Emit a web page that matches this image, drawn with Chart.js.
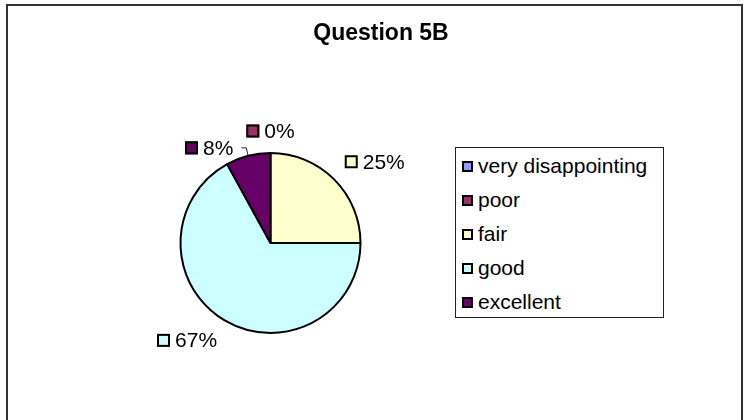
<!DOCTYPE html>
<html>
<head>
<meta charset="utf-8">
<title>Question 5B</title>
<script src="https://cdn.jsdelivr.net/npm/chart.js@4.4.1/dist/chart.umd.min.js"></script>
<style>
    html, body { margin: 0; padding: 0; background: #fff; }

    .chart-wrap {
        position: relative;
        width: 744px;
        height: 420px;
        overflow: hidden;
        font-family: 'Liberation Sans', Arial, sans-serif;
    }

    .chart-frame {
        position: absolute;
        left: 6px;
        top: 4px;
        width: 737px;
        height: 440px;
        border: 2px solid #333;
        box-sizing: border-box;
    }

    .chart-wrap canvas { position: absolute; left: 0; top: 0; }

    #legend-container {
        position: absolute;
        left: 455px;
        top: 147px;
        width: 209px;
        height: 171px;
        border: 1px solid #222;
        box-sizing: border-box;
        background: #fff;
    }

    .chart-legend-list { list-style: none; margin: 0; padding: 1px 0 0 0; }

    .chart-legend-li {
        display: flex;
        align-items: center;
        height: 34px;
        padding-left: 6px;
        font-size: 21px;
        color: #000;
        white-space: nowrap;
    }

    .chart-legend-box {
        width: 11px;
        height: 11px;
        box-sizing: border-box;
        border: 2px solid #000;
        background: var(--color);
        margin-right: 5px;
    }
</style>
</head>
<body>
<div class="chart-wrap">
    <div class="chart-frame"></div>
    <canvas id="question-chart" width="744" height="420"></canvas>
    <div id="legend-container"></div>
</div>

<script>
const categories = ['very disappointing', 'poor', 'fair', 'good', 'excellent'];
const shares = [0, 0, 25, 67, 8];
const sliceColors = ['#9999FF', '#993366', '#FFFFCC', '#CCFFFF', '#660066'];
const chartTitle = 'Question 5B';

const fontFamily = "'Liberation Sans', Arial, sans-serif";

const ctx = document.querySelector('#question-chart');

// legend in html, same idea as the line chart one
const getOrCreateLegendList = (chart, id) => {
    const legendContainer = document.getElementById(id);
    let listContainer = legendContainer.querySelector('ul');

    if (!listContainer) {
        listContainer = document.createElement('ul');
        listContainer.classList.add('chart-legend-list');
        legendContainer.appendChild(listContainer);
    }

    return listContainer;
};

const htmlLegendPlugin = {
    id: 'htmlLegend',
    afterUpdate(chart, args, options) {
        const ul = getOrCreateLegendList(chart, options.containerID);

        while (ul.firstChild) {
            ul.firstChild.remove();
        }

        const items = chart.options.plugins.legend.labels.generateLabels(chart);

        items.forEach(item => {
            const li = document.createElement('li');
            li.classList.add('chart-legend-li');

            const boxSpan = document.createElement('span');
            boxSpan.classList.add('chart-legend-box');
            boxSpan.style.setProperty('--color', item.fillStyle);

            const textContainer = document.createElement('span');
            textContainer.classList.add('chart-legend-text');
            textContainer.appendChild(document.createTextNode(item.text));

            li.appendChild(boxSpan);
            li.appendChild(textContainer);
            ul.appendChild(li);
        });
    }
};

// the title is centred over the whole frame, not over the pie
const titleSpanPlugin = {
    id: 'titleSpan',
    afterLayout(chart, args, opts) {
        const t = chart.titleBlock;
        if (!t) return;
        t.left = opts.left;
        t.right = opts.right;
        t.width = opts.right - opts.left;
    }
};

// excel style labels: small colour box + percent, outside the slice
const pieLabelsPlugin = {
    id: 'pieLabels',
    afterDatasetsDraw(chart, args, opts) {
        const c = chart.ctx;
        const meta = chart.getDatasetMeta(0);
        const dataset = chart.data.datasets[0];

        c.save();
        c.font = opts.font;

        const clamp = v => Math.max(-1, Math.min(1, v * 2));

        const labels = meta.data.map((arc, i) => {
            const p = arc.getProps(['x', 'y', 'startAngle', 'endAngle', 'outerRadius'], true);
            const mid = (p.startAngle + p.endAngle) / 2;
            const dx = Math.cos(mid), dy = Math.sin(mid);
            const r = p.outerRadius + 1;
            const text = dataset.data[i] + '%';
            const w = opts.box + opts.boxGap + c.measureText(text).width;
            const h = opts.height;
            const ax = p.x + dx * (r + opts.offset),
                  ay = p.y + dy * (r + opts.offset);

            return {
                i, text, w, h, dx,
                cx: ax + clamp(dx) * w / 2,
                cy: ay + clamp(dy) * h / 2,
                edgeX: p.x + dx * r,
                edgeY: p.y + dy * r,
                leader: false,
                color: dataset.backgroundColor[i],
            };
        });

        // same spot as a later label -> only the later one shows
        const visible = labels.filter(l => !labels.some(o => o.i > l.i
            && Math.abs(o.cx - l.cx) < 1 && Math.abs(o.cy - l.cy) < 1));

        const placed = [];
        visible.forEach(l => {
            const hit = placed.find(o =>
                l.cx - l.w / 2 < o.cx + o.w / 2 && l.cx + l.w / 2 > o.cx - o.w / 2 &&
                l.cy - l.h / 2 < o.cy + o.h / 2 && l.cy + l.h / 2 > o.cy - o.h / 2);
            if (hit) {
                if (l.dx < 0) {
                    l.cx = hit.cx - hit.w / 2 - opts.pushGap - l.w / 2;
                } else {
                    l.cx = hit.cx + hit.w / 2 + opts.pushGap + l.w / 2;
                }
                l.cy = l.edgeY - l.h / 2;
                l.leader = true;
            }
            placed.push(l);
        });

        placed.forEach(l => {
            const left = l.cx - l.w / 2;
            const top = l.cy - opts.box / 2;

            c.fillStyle = l.color;
            c.fillRect(left, top, opts.box, opts.box);
            c.lineWidth = 2;
            c.strokeStyle = '#000';
            c.strokeRect(left + 1, top + 1, opts.box - 2, opts.box - 2);

            c.fillStyle = '#000';
            c.textAlign = 'left';
            c.textBaseline = 'middle';
            c.fillText(l.text, left + opts.box + opts.boxGap, l.cy + 1);

            if (l.leader) {
                const side = l.dx < 0 ? 1 : -1;
                const lx = l.dx < 0 ? l.cx + l.w / 2 + 8 : l.cx - l.w / 2 - 8;
                c.lineWidth = 1;
                c.strokeStyle = '#222';
                c.beginPath();
                c.moveTo(lx, l.cy);
                c.lineTo(lx + side * 5, l.cy);
                c.lineTo(l.edgeX, l.edgeY);
                c.stroke();
            }
        });

        c.restore();
    }
};

try {
    const chart = new Chart(ctx.getContext('2d'), {
        type: 'pie',
        data: {
            labels: categories,
            datasets: [{
                data: shares,
                backgroundColor: sliceColors,
                borderColor: '#000',
                borderWidth: 2,
            }]
        },
        options: {
            responsive: false,
            animation: false,
            devicePixelRatio: 1,
            radius: 90,
            layout: {
                padding: { left: 100, right: 303, top: 0, bottom: 34 }
            },
            plugins: {
                title: {
                    display: true,
                    text: chartTitle,
                    color: '#000',
                    font: { family: fontFamily, size: 23, weight: 'bold' },
                    padding: { top: 20, bottom: 52.4 },
                },
                legend: { display: false },
                tooltip: { enabled: false },
                htmlLegend: { containerID: 'legend-container' },
                titleSpan: { left: 20, right: 742 },
                pieLabels: {
                    font: '21px ' + fontFamily,
                    box: 13,
                    boxGap: 5,
                    height: 14,
                    offset: 14,
                    pushGap: 13,
                },
            }
        },
        plugins: [htmlLegendPlugin, titleSpanPlugin, pieLabelsPlugin]
    });
} catch (e) {
    console.error(e);
}
</script>
</body>
</html>
